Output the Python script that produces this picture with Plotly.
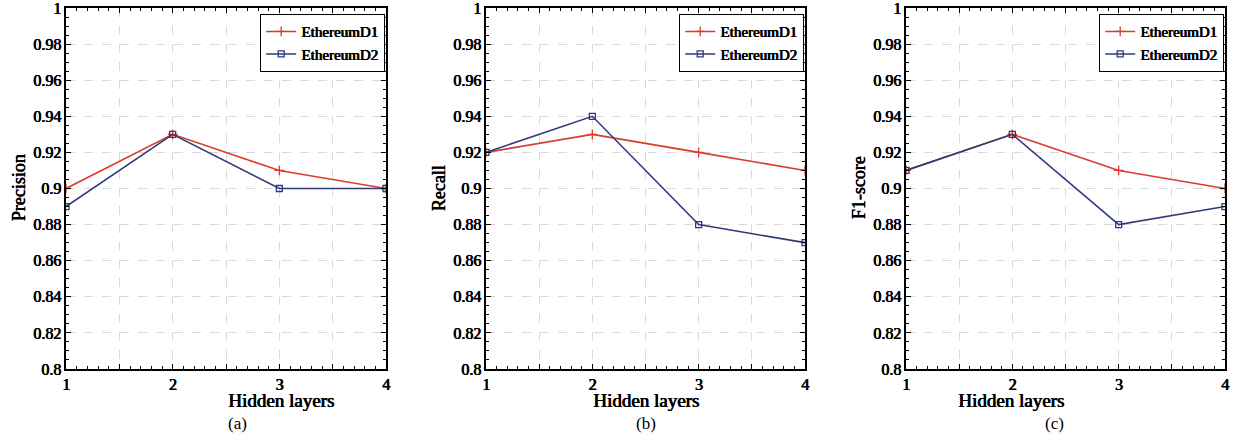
import plotly.graph_objects as go

hidden_layers = [1, 2, 3, 4]
precision_d1 = [0.90, 0.93, 0.91, 0.90]
precision_d2 = [0.89, 0.93, 0.90, 0.90]
recall_d1 = [0.92, 0.93, 0.92, 0.91]
recall_d2 = [0.92, 0.94, 0.88, 0.87]
f1_d1 = [0.91, 0.93, 0.91, 0.90]
f1_d2 = [0.91, 0.93, 0.88, 0.89]

y_titles = ["Precision", "Recall", "F1-score"]
panel_labels = ["(a)", "(b)", "(c)"]
series_names = ["EthereumD1", "EthereumD2"]
x_tickvals = [1, 1.5, 2, 2.5, 3, 3.5, 4]
x_ticktext = ["1", "", "2", "", "3", "", "4"]
y_tickvals = [0.8, 0.82, 0.84, 0.86, 0.88, 0.9, 0.92, 0.94, 0.96, 0.98, 1.0]
y_ticktext = ["0.8", "0.82", "0.84", "0.86", "0.88", "0.9", "0.92", "0.94", "0.96", "0.98", "1"]

RED = "#dc3b2c"
BLUE = "#2f3a7b"
FONT = "Liberation Serif"
BOLD = "0.8px 0px 0px black, 0.4px 0px 0px black"  # faux bold (no bold serif face installed)

W, H = 1234, 436
ml, mr, mt, mb = 66, 9, 8, 67
pw = W - ml - mr
ph = H - mt - mb
domains = [(0, 320 / pw), ((486 - ml) / pw, (805 - ml) / pw), ((906 - ml) / pw, 1.0)]

fig = go.Figure()
data = [(precision_d1, precision_d2), (recall_d1, recall_d2), (f1_d1, f1_d2)]

for i, (d1, d2) in enumerate(data):
    sfx = "" if i == 0 else str(i + 1)
    leg = "legend" if i == 0 else f"legend{i+1}"
    fig.add_trace(go.Scatter(
        x=hidden_layers, y=d1, mode="lines+markers", name=series_names[0],
        line=dict(color=RED, width=1.6),
        marker=dict(symbol="cross-thin-open", size=7, color=RED, line=dict(color=RED, width=1.3)),
        xaxis="x" + sfx, yaxis="y" + sfx, legend=leg))
    fig.add_trace(go.Scatter(
        x=hidden_layers, y=d2, mode="lines+markers", name=series_names[1],
        line=dict(color=BLUE, width=1.6),
        marker=dict(symbol="square-open", size=6, color=BLUE, line=dict(color=BLUE, width=1.3)),
        xaxis="x" + sfx, yaxis="y" + sfx, legend=leg))

    common = dict(showline=True, linecolor="black", linewidth=1.5, mirror="allticks",
                  ticks="inside", tickcolor="black", tickwidth=1.2, automargin=False,
                  ticklabeloverflow="allow",
                  showgrid=True, gridcolor="#d9d9d9", griddash="dash", gridwidth=1,
                  zeroline=False,
                  tickfont=dict(family=FONT, size=16, color="black", shadow=BOLD))
    fig.update_layout({
        "xaxis" + sfx: dict(common, domain=list(domains[i]), anchor="y" + sfx,
                             range=[1, 4], tickvals=x_tickvals, ticktext=x_ticktext, ticklen=5,
                             minor=dict(dtick=0.1, tick0=1, ticks="inside", ticklen=3,
                                        tickcolor="black", tickwidth=1, showgrid=False)),
        "yaxis" + sfx: dict(common, domain=[0, 1], anchor="x" + sfx,
                             range=[0.8, 1.0], tickvals=y_tickvals, ticktext=y_ticktext, ticklen=5,
                             minor=dict(dtick=0.005, tick0=0.8, ticks="inside", ticklen=3,
                                        tickcolor="black", tickwidth=1, showgrid=False)),
        leg: dict(x=domains[i][1] - 1 / pw, xanchor="right", y=1 - 6 / ph, yanchor="top",
                  bgcolor="white", bordercolor="black", borderwidth=1.2,
                  font=dict(family=FONT, size=15, color="black", shadow=BOLD),
                  tracegroupgap=0, itemwidth=30),
    })
    xc = (domains[i][0] + domains[i][1]) / 2
    fig.add_annotation(x=xc, y=0, xref="paper", yref="paper", text="Hidden layers",
                       showarrow=False, yanchor="middle", yshift=-31,
                       font=dict(family=FONT, size=19, color="black", shadow=BOLD))
    fig.add_annotation(x=xc, y=0, xref="paper", yref="paper", text=panel_labels[i],
                       showarrow=False, yanchor="middle", yshift=-54,
                       font=dict(family=FONT, size=17, color="black"))
    fig.add_annotation(x=domains[i][0], y=0.5, xref="paper", yref="paper", text=y_titles[i],
                       showarrow=False, xanchor="center", yanchor="middle", xshift=-48, textangle=-90,
                       font=dict(family=FONT, size=18, color="black", shadow=BOLD))

fig.update_layout(width=W, height=H, margin=dict(l=ml, r=mr, t=mt, b=mb, autoexpand=False),
                  plot_bgcolor="white", paper_bgcolor="white", showlegend=True)
fig.write_html("out.html", config={"displayModeBar": False},
               post_script="document.body.style.margin='0';")
